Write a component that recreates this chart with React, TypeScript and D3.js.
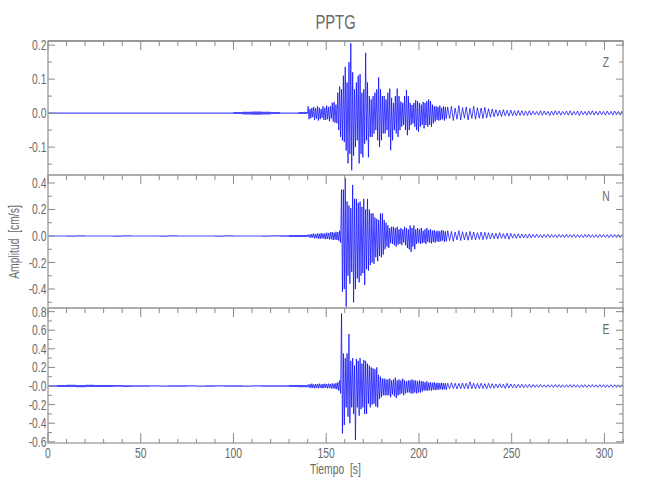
import React from "react";
import * as d3 from "d3";

// ---------------- DATA ----------------
const stationName = "PPTG";
const componentNames = ["Z", "N", "E"];
const xTickValues = [0, 50, 100, 150, 200, 250, 300];
const timeMax = 310;

// time bins (s): coarse before the event, 1 s during the strong motion, 2 s in the coda
const preBinStart = d3.range(0, 140, 5);
const mainBinStart = d3.range(140, 215, 1);
const postBinStart = d3.range(215, 310, 2);

// per-bin max / min amplitude (cm/s)
const zPreHi = [0.0015,0.002,0.0015,0.002,0.0015,0.002,0.0015,0.002,0.0015,0.002,0.0015,0.002,0.0015,0.002,0.0015,0.002,0.0015,0.002,0.0015,0.002,0.003,0.004,0.005,0.004,0.003,0.002,0.002,0.003];
const zPreLo = [-0.002,-0.0015,-0.002,-0.0015,-0.002,-0.0015,-0.002,-0.0015,-0.002,-0.0015,-0.002,-0.0015,-0.002,-0.0015,-0.002,-0.0015,-0.002,-0.0015,-0.002,-0.0015,-0.003,-0.004,-0.005,-0.004,-0.003,-0.002,-0.002,-0.003];
const zMainHi = [0.02,0.012,0.015,0.018,0.014,0.02,0.016,0.012,0.02,0.016,
  0.022,0.018,0.02,0.03,0.033,0.025,0.06,0.078,0.07,0.11,
  0.136,0.09,0.15,0.205,0.12,0.07,0.09,0.11,0.115,0.06,
  0.07,0.177,0.09,0.05,0.04,0.05,0.06,0.07,0.105,0.07,
  0.05,0.05,0.04,0.06,0.072,0.045,0.03,0.05,0.072,0.05,
  0.034,0.03,0.05,0.068,0.05,0.03,0.024,0.03,0.038,0.035,
  0.03,0.025,0.033,0.03,0.035,0.04,0.035,0.025,0.02,0.02,
  0.018,0.022,0.016,0.02,0.018];
const zMainLo = [-0.018,-0.015,-0.012,-0.02,-0.016,-0.022,-0.018,-0.014,-0.02,-0.02,
  -0.018,-0.024,-0.016,-0.025,-0.028,-0.03,-0.05,-0.07,-0.08,-0.085,
  -0.11,-0.148,-0.12,-0.168,-0.125,-0.1,-0.08,-0.148,-0.12,-0.13,
  -0.09,-0.08,-0.13,-0.07,-0.07,-0.06,-0.05,-0.08,-0.1,-0.08,
  -0.06,-0.06,-0.05,-0.07,-0.109,-0.08,-0.05,-0.06,-0.07,-0.05,
  -0.04,-0.035,-0.05,-0.065,-0.05,-0.035,-0.03,-0.04,-0.05,-0.055,
  -0.04,-0.035,-0.045,-0.035,-0.04,-0.035,-0.04,-0.03,-0.025,-0.02,
  -0.022,-0.02,-0.018,-0.022,-0.016];
const zPostHi = [0.018,0.02,0.015,0.022,0.016,0.018,0.014,0.02,0.016,0.015,0.017,0.013,0.012,
  0.01,0.009,0.01,0.008,0.009,0.007,0.008,0.007,0.006,0.007,
  0.006,0.005,0.007,0.006,0.005,0.006,0.007,0.006,0.005,0.006,0.007,0.005,0.006,0.006,0.005,0.006,0.007,0.005,0.006,0.005,0.006,0.005,0.006,0.005,0.006];
const zPostLo = [-0.016,-0.022,-0.018,-0.02,-0.015,-0.02,-0.016,-0.018,-0.015,-0.016,-0.014,-0.012,-0.011,
  -0.009,-0.01,-0.008,-0.009,-0.008,-0.008,-0.007,-0.007,-0.007,-0.006,
  -0.005,-0.006,-0.006,-0.005,-0.007,-0.006,-0.005,-0.006,-0.005,-0.006,-0.006,-0.005,-0.007,-0.005,-0.006,-0.005,-0.006,-0.006,-0.005,-0.006,-0.005,-0.006,-0.005,-0.006,-0.005];

const nPreHi = [0.004,0.003,0.004,0.005,0.003,0.004,0.004,0.003,0.005,0.004,0.003,0.004,0.004,0.005,0.003,0.004,0.004,0.003,0.004,0.005,0.004,0.004,0.003,0.004,0.005,0.006,0.007,0.008];
const nPreLo = [-0.003,-0.004,-0.005,-0.003,-0.004,-0.004,-0.003,-0.005,-0.004,-0.003,-0.004,-0.004,-0.005,-0.003,-0.004,-0.004,-0.003,-0.004,-0.005,-0.004,-0.004,-0.003,-0.004,-0.005,-0.004,-0.006,-0.008,-0.007];
const nMainHi = [0.01,0.012,0.015,0.018,0.014,0.02,0.017,0.022,0.018,0.02,
  0.025,0.022,0.028,0.03,0.025,0.032,0.03,0.04,0.35,0.35,
  0.435,0.26,0.23,0.21,0.385,0.28,0.28,0.25,0.26,0.22,
  0.28,0.2,0.28,0.2,0.17,0.17,0.14,0.13,0.12,0.17,
  0.17,0.12,0.1,0.08,0.06,0.07,0.07,0.06,0.07,0.05,
  0.06,0.05,0.07,0.06,0.05,0.08,0.06,0.08,0.05,0.06,
  0.05,0.06,0.04,0.05,0.06,0.045,0.05,0.04,0.045,0.035,
  0.04,0.035,0.045,0.04,0.035];
const nMainLo = [-0.01,-0.014,-0.012,-0.018,-0.016,-0.02,-0.022,-0.018,-0.02,-0.024,
  -0.022,-0.026,-0.025,-0.03,-0.028,-0.03,-0.035,-0.05,-0.42,-0.4,
  -0.533,-0.3,-0.36,-0.27,-0.5,-0.4,-0.32,-0.35,-0.3,-0.28,
  -0.37,-0.25,-0.26,-0.22,-0.2,-0.21,-0.16,-0.19,-0.15,-0.16,
  -0.14,-0.1,-0.08,-0.09,-0.055,-0.06,-0.07,-0.08,-0.065,-0.06,
  -0.07,-0.05,-0.07,-0.09,-0.1,-0.12,-0.08,-0.1,-0.06,-0.05,
  -0.06,-0.055,-0.05,-0.06,-0.045,-0.05,-0.055,-0.045,-0.05,-0.04,
  -0.045,-0.04,-0.035,-0.045,-0.04];
const nPostHi = [0.04,0.035,0.03,0.04,0.032,0.028,0.035,0.03,0.025,0.03,0.028,0.025,0.022,
  0.02,0.025,0.018,0.022,0.02,0.016,0.018,0.015,0.014,0.016,
  0.012,0.014,0.01,0.012,0.013,0.011,0.01,0.012,0.011,0.013,0.01,0.012,0.011,0.01,0.012,0.013,0.011,0.01,0.012,0.011,0.01,0.012,0.011,0.012,0.01];
const nPostLo = [-0.035,-0.04,-0.03,-0.035,-0.03,-0.032,-0.028,-0.03,-0.025,-0.028,-0.025,-0.022,-0.02,
  -0.022,-0.018,-0.02,-0.025,-0.016,-0.018,-0.016,-0.015,-0.016,-0.014,
  -0.011,-0.012,-0.013,-0.01,-0.012,-0.011,-0.013,-0.01,-0.012,-0.011,-0.01,-0.012,-0.011,-0.013,-0.01,-0.012,-0.011,-0.012,-0.01,-0.011,-0.012,-0.01,-0.011,-0.012,-0.01];

const ePreHi = [0.008,0.012,0.014,0.011,0.013,0.012,0.01,0.012,0.009,0.008,0.007,0.008,0.006,0.008,0.007,0.008,0.006,0.007,0.008,0.007,0.008,0.006,0.007,0.008,0.007,0.008,0.01,0.012];
const ePreLo = [-0.007,-0.011,-0.012,-0.013,-0.01,-0.012,-0.011,-0.009,-0.01,-0.007,-0.008,-0.006,-0.008,-0.007,-0.008,-0.006,-0.007,-0.008,-0.006,-0.008,-0.007,-0.008,-0.006,-0.007,-0.008,-0.009,-0.011,-0.013];
const eMainHi = [0.015,0.02,0.025,0.018,0.022,0.02,0.025,0.018,0.022,0.025,
  0.02,0.025,0.022,0.028,0.025,0.03,0.04,0.06,0.78,0.35,
  0.3,0.35,0.56,0.27,0.3,0.22,0.29,0.27,0.3,0.24,
  0.28,0.27,0.24,0.22,0.2,0.19,0.18,0.2,0.12,0.1,
  0.08,0.08,0.07,0.07,0.08,0.06,0.07,0.09,0.06,0.07,
  0.06,0.08,0.06,0.05,0.06,0.06,0.07,0.06,0.06,0.05,
  0.06,0.05,0.05,0.04,0.05,0.035,0.04,0.035,0.04,0.03,
  0.035,0.03,0.035,0.03,0.03];
const eMainLo = [-0.018,-0.022,-0.02,-0.025,-0.02,-0.024,-0.02,-0.025,-0.022,-0.02,
  -0.025,-0.022,-0.028,-0.025,-0.03,-0.035,-0.05,-0.08,-0.51,-0.42,
  -0.23,-0.33,-0.4,-0.23,-0.3,-0.58,-0.23,-0.32,-0.25,-0.23,
  -0.3,-0.3,-0.19,-0.23,-0.2,-0.19,-0.22,-0.23,-0.14,-0.12,
  -0.1,-0.1,-0.1,-0.1,-0.12,-0.09,-0.11,-0.13,-0.1,-0.09,
  -0.08,-0.1,-0.08,-0.07,-0.07,-0.08,-0.08,-0.07,-0.08,-0.07,
  -0.07,-0.06,-0.05,-0.05,-0.05,-0.045,-0.05,-0.04,-0.045,-0.04,
  -0.04,-0.035,-0.04,-0.035,-0.04];
const ePostHi = [0.03,0.035,0.03,0.028,0.032,0.03,0.045,0.03,0.028,0.03,0.025,0.028,0.025,
  0.022,0.025,0.02,0.028,0.022,0.02,0.018,0.02,0.016,0.018,
  0.015,0.014,0.016,0.013,0.015,0.014,0.016,0.015,0.013,0.014,0.015,0.016,0.014,0.013,0.015,0.014,0.016,0.013,0.015,0.014,0.013,0.015,0.014,0.013,0.015];
const ePostLo = [-0.03,-0.028,-0.032,-0.03,-0.028,-0.03,-0.03,-0.032,-0.027,-0.028,-0.03,-0.025,-0.024,
  -0.022,-0.02,-0.025,-0.022,-0.02,-0.022,-0.018,-0.018,-0.017,-0.016,
  -0.014,-0.016,-0.013,-0.015,-0.014,-0.016,-0.013,-0.015,-0.014,-0.013,-0.015,-0.014,-0.016,-0.013,-0.015,-0.014,-0.013,-0.015,-0.014,-0.016,-0.013,-0.014,-0.015,-0.013,-0.014];

// y axes
const yDomains = [[-0.182, 0.212], [-0.543, 0.46], [-0.613, 0.839]];
const yTickValues = [[0.2, 0.1, 0, -0.1], [0.4, 0.2, 0, -0.2, -0.4], [0.8, 0.6, 0.4, 0.2, 0, -0.2, -0.4, -0.6]];
const yTickLabels = [["0.2", "0.1", "0.0", "-0.1"], ["0.4", "0.2", "0.0", "-0.2", "-0.4"], ["0.8", "0.6", "0.4", "0.2", "-0.0", "-0.2", "-0.4", "-0.6"]];
const yMinorSteps = [0.05, 0.1, 0.1];

const traces = [
  { hi: [zPreHi, zMainHi, zPostHi], lo: [zPreLo, zMainLo, zPostLo] },
  { hi: [nPreHi, nMainHi, nPostHi], lo: [nPreLo, nMainLo, nPostLo] },
  { hi: [ePreHi, eMainHi, ePostHi], lo: [ePreLo, eMainLo, ePostLo] },
];

// ---------------- LAYOUT ----------------
const W = 650;
const H = 500;
const X0 = 48;
const X1 = 623;
const panelTops = [41, 175, 308];
const panelBottoms = [175, 308, 443];
const FONT = "'Liberation Sans', Arial, sans-serif";
const SQUEEZE = 0.74;
const AXIS = "#a8a8a8";
const TICK = "#8a8a8a";
const TEXT = "#6a6a6a";
const TRACE = "#0000ff";

type P = [number, number];

function Label(props: { x: number; y: number; size: number; anchor?: string; rotate?: number; children: React.ReactNode }) {
  const { x, y, size, anchor = "middle", rotate = 0, children } = props;
  return (
    <text
      transform={`translate(${x},${y}) rotate(${rotate}) scale(${SQUEEZE},1)`}
      textAnchor={anchor}
      fontFamily={FONT}
      fontSize={size}
      fill={TEXT}
    >
      {children}
    </text>
  );
}

function zigzag(hi: number[][], lo: number[][]): P[] {
  const segs: [number[], number][] = [
    [mainBinStart, 1],
    [postBinStart, 2],
  ];
  const pts: P[] = [[mainBinStart[0], 0]];
  segs.forEach(([starts, w], k) => {
    const si = k + 1;
    const n = Math.min(starts.length, hi[si].length, lo[si].length);
    for (let i = 0; i < n; i++) {
      pts.push([starts[i] + w * 0.25, hi[si][i]]);
      pts.push([starts[i] + w * 0.75, lo[si][i]]);
    }
  });
  pts.push([timeMax, 0]);
  return pts;
}

function preBand(hi: number[][], lo: number[][]): { t: number; hi: number; lo: number }[] {
  const out: { t: number; hi: number; lo: number }[] = [];
  const n = Math.min(preBinStart.length, hi[0].length, lo[0].length);
  for (let i = 0; i < n; i++) out.push({ t: preBinStart[i], hi: hi[0][i], lo: lo[0][i] });
  out.push({ t: mainBinStart[0], hi: hi[0][n - 1], lo: lo[0][n - 1] });
  return out;
}

export default function App() {
  const x = d3.scaleLinear().domain([0, timeMax]).range([X0, X1]);
  const xMinor = d3.range(0, timeMax + 0.001, 10);

  return (
    <svg
      width={W}
      height={H}
      viewBox={`0 0 ${W} ${H}`}
      style={{ position: "absolute", left: 0, top: 0, background: "#fff", display: "block" }}
    >
      <rect x={0} y={0} width={W} height={H} fill="#fff" />
      <Label x={(X0 + X1) / 2} y={29} size={20}>
        {stationName}
      </Label>

      {componentNames.map((comp, pi) => {
        const top = panelTops[pi];
        const bottom = panelBottoms[pi];
        const y = d3.scaleLinear().domain(yDomains[pi]).range([bottom, top]);
        const pts = zigzag(traces[pi].hi, traces[pi].lo);
        const line = d3
          .line<P>()
          .x((d) => x(d[0]))
          .y((d) => y(d[1]));
        const band = d3
          .area<{ t: number; hi: number; lo: number }>()
          .curve(d3.curveStepAfter)
          .x((d) => x(d.t))
          .y0((d) => Math.max(y(d.lo), y(0) + 0.6))
          .y1((d) => Math.min(y(d.hi), y(0) - 0.6));
        const [d0, d1] = yDomains[pi];
        const step = yMinorSteps[pi];
        const minor = d3
          .range(Math.ceil(d0 / step - 1e-6) * step, d1 + 1e-9, step)
          .filter((v) => !yTickValues[pi].some((t) => Math.abs(t - v) < 1e-6));
        const clipId = `clip-${pi}`;
        return (
          <g key={comp}>
            <defs>
              <clipPath id={clipId}>
                <rect x={X0} y={top} width={X1 - X0} height={bottom - top} />
              </clipPath>
            </defs>
            <g clipPath={`url(#${clipId})`}>
              <path d={band(preBand(traces[pi].hi, traces[pi].lo)) || ""} fill={TRACE} fillOpacity={0.7} stroke="none" />
              <path d={line(pts) || ""} fill="none" stroke={TRACE} strokeWidth={0.75} strokeOpacity={0.95} strokeLinejoin="round" />
            </g>
            {/* frame */}
            <rect x={X0} y={top} width={X1 - X0} height={bottom - top} fill="none" stroke={AXIS} strokeWidth={1.5} />
            {pi === 0 && <line x1={X0} x2={X1} y1={top} y2={top} stroke="#8c8c8c" strokeWidth={1.5} />}
            {/* x ticks on the top edge (pointing down) */}
            {xMinor.map((t) => {
              const major = Math.abs(t % 50) < 1e-6;
              return (
                <line
                  key={`xt${t}`}
                  x1={x(t)}
                  x2={x(t)}
                  y1={top}
                  y2={top + (major ? 9 : 5)}
                  stroke={TICK}
                  strokeWidth={1}
                />
              );
            })}
            {/* x ticks on the bottom edge of the last panel */}
            {pi === componentNames.length - 1 &&
              xMinor.map((t) => {
                const major = Math.abs(t % 50) < 1e-6;
                return (
                  <line
                    key={`xb${t}`}
                    x1={x(t)}
                    x2={x(t)}
                    y1={bottom}
                    y2={bottom - (major ? 10 : 4)}
                    stroke={TICK}
                    strokeWidth={1}
                  />
                );
              })}
            {/* y ticks */}
            {yTickValues[pi].map((v, i) => (
              <g key={`yt${i}`}>
                <line x1={X0} x2={X0 + 7} y1={y(v)} y2={y(v)} stroke={TICK} strokeWidth={1} />
                <line x1={X1} x2={X1 - 7} y1={y(v)} y2={y(v)} stroke={TICK} strokeWidth={1} />
                <Label x={X0 - 1.5} y={y(v) + 5} size={14} anchor="end">
                  {yTickLabels[pi][i]}
                </Label>
              </g>
            ))}
            {minor.map((v, i) => (
              <g key={`ym${i}`}>
                <line x1={X0} x2={X0 + 4} y1={y(v)} y2={y(v)} stroke={TICK} strokeWidth={1} />
                <line x1={X1} x2={X1 - 4} y1={y(v)} y2={y(v)} stroke={TICK} strokeWidth={1} />
              </g>
            ))}
            <Label x={606} y={top + 26} size={14}>
              {comp}
            </Label>
          </g>
        );
      })}

      {/* x tick labels */}
      {xTickValues.map((t) => (
        <Label key={`xl${t}`} x={x(t)} y={458} size={14}>
          {String(t)}
        </Label>
      ))}
      <Label x={(X0 + X1) / 2} y={474} size={14}>
        {"Tiempo\u00a0 [s]"}
      </Label>
      <Label x={19} y={242} size={14} rotate={-90}>
        {"Amplitud\u00a0 [cm/s]"}
      </Label>
    </svg>
  );
}
